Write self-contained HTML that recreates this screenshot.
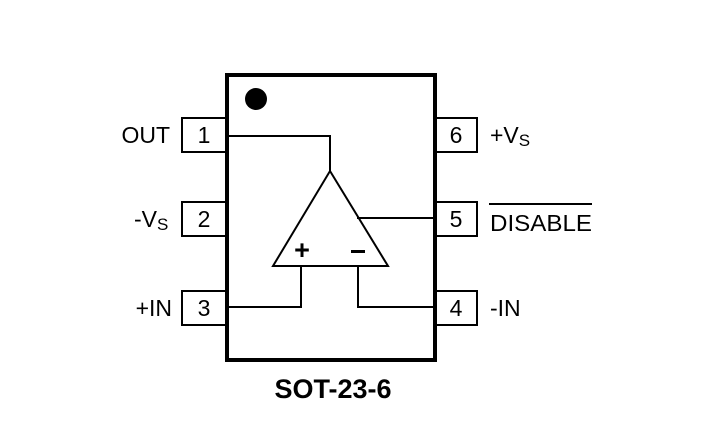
<!DOCTYPE html>
<html><head><style>
html,body{margin:0;padding:0;background:#fff;}
svg{display:block;}
text{font-family:"Liberation Sans",Arial,sans-serif;fill:#000;}
</style></head><body>
<svg width="705" height="423" viewBox="0 0 705 423" xmlns="http://www.w3.org/2000/svg">
<rect x="227" y="75" width="208" height="285" fill="none" stroke="#000" stroke-width="4"/>
<circle cx="256" cy="99" r="11" fill="#000"/>
<g fill="#fff" stroke="#000" stroke-width="2">
<rect x="182" y="118" width="44" height="34"/>
<rect x="182" y="202" width="44" height="34"/>
<rect x="182" y="291" width="44" height="34"/>
<rect x="436" y="118" width="41" height="34"/>
<rect x="436" y="202" width="41" height="34"/>
<rect x="436" y="291" width="41" height="34"/>
</g>
<g fill="none" stroke="#000" stroke-width="2">
<polygon points="330,171 388,266 273,266" fill="#fff"/>
<polyline points="228,136 330,136 330,171"/>
<polyline points="301,266 301,307 228,307"/>
<polyline points="358,266 358,307 434,307"/>
<line x1="357" y1="218" x2="434" y2="218"/>
<line x1="489" y1="204" x2="592" y2="204"/>
</g>
<g font-size="23">
<text x="204" y="143" text-anchor="middle">1</text>
<text x="204" y="227" text-anchor="middle">2</text>
<text x="204" y="316" text-anchor="middle">3</text>
<text x="456" y="143" text-anchor="middle">6</text>
<text x="456" y="227" text-anchor="middle">5</text>
<text x="456" y="316" text-anchor="middle">4</text>
<text x="170" y="143" text-anchor="end">OUT</text>
<text x="172" y="316" text-anchor="end">+IN</text>
<text x="134" y="227">-V<tspan font-size="17" dy="3">S</tspan></text>
<text x="490" y="143">+V<tspan font-size="17" dy="3">S</tspan></text>
<text x="490" y="231" textLength="102" lengthAdjust="spacingAndGlyphs">DISABLE</text>
<text x="490" y="316">-IN</text>
</g>
<text x="302" y="259" font-size="27" font-weight="bold" text-anchor="middle">+</text>
<rect x="351" y="250" width="14" height="3" fill="#000"/>
<text x="333" y="398" font-size="27" font-weight="bold" text-anchor="middle">SOT-23-6</text>
</svg>
</body></html>
